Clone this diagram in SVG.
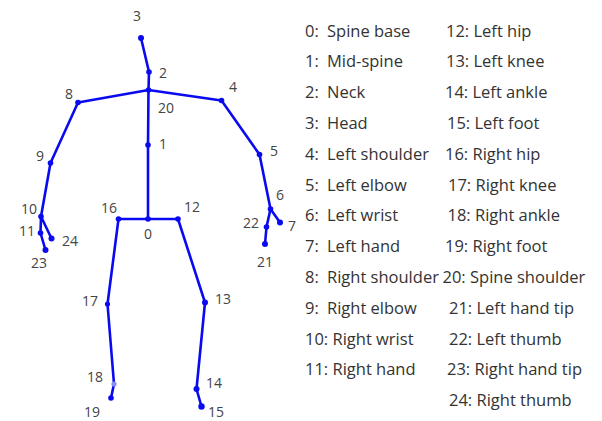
<svg xmlns="http://www.w3.org/2000/svg" width="602" height="421" viewBox="0 0 602 421">
  <style>
    .bone { stroke: #0a0af0; stroke-width: 2.6; stroke-linecap: round; fill: none; }
    .joint circle { fill: #0a0af0; }
    .joint text { font-family: "Open Sans", "Noto Sans", sans-serif; font-size: 14px; fill: #444; text-anchor: middle; }
    .legend text { font-family: "Open Sans", "Noto Sans", sans-serif; font-size: 16.5px; fill: #333; }
  </style>
  <rect width="602" height="421" fill="#fff"/>

  <!-- bones -->
  <g id="connectors" class="bone">
    <line x1="141" y1="38" x2="149" y2="72"/>
    <line x1="149" y1="72" x2="148.5" y2="90"/>
    <line x1="148.5" y1="90" x2="78" y2="102.5"/>
    <line x1="148.5" y1="90" x2="221.5" y2="100.5"/>
    <line x1="148.5" y1="90" x2="148" y2="145"/>
    <line x1="148" y1="145" x2="148" y2="219"/>
    <line x1="78" y1="102.5" x2="50.5" y2="163"/>
    <line x1="50.5" y1="163" x2="41" y2="216.5"/>
    <line x1="41" y1="216.5" x2="40.5" y2="233"/>
    <line x1="41" y1="216.5" x2="51.5" y2="238.5"/>
    <line x1="40.5" y1="233" x2="45.5" y2="250"/>
    <line x1="221.5" y1="100.5" x2="259.5" y2="154.5"/>
    <line x1="259.5" y1="154.5" x2="270.5" y2="209"/>
    <line x1="270.5" y1="209" x2="280" y2="222.5"/>
    <line x1="270.5" y1="209" x2="266.5" y2="227"/>
    <line x1="266.5" y1="227" x2="265" y2="244"/>
    <line x1="148" y1="219" x2="118.5" y2="219"/>
    <line x1="148" y1="219" x2="178" y2="219"/>
    <line x1="118.5" y1="219" x2="107.5" y2="304"/>
    <line x1="107.5" y1="304" x2="114" y2="384"/>
    <line x1="114" y1="384" x2="111" y2="398"/>
    <line x1="178" y1="219" x2="205" y2="302.5"/>
    <line x1="205" y1="302.5" x2="196.5" y2="389"/>
    <line x1="196.5" y1="389" x2="201.5" y2="406.5"/>
  </g>

  <!-- joints -->
  <g id="j0" class="joint"><circle cx="148" cy="219" r="2.8"/><text x="148" y="239">0</text></g>
  <g id="j1" class="joint"><circle cx="148" cy="145" r="2.8"/><text x="163" y="149">1</text></g>
  <g id="j2" class="joint"><circle cx="149" cy="72" r="2.8"/><text x="163" y="78">2</text></g>
  <g id="j3" class="joint"><circle cx="141" cy="38" r="3"/><text x="137" y="21">3</text></g>
  <g id="j4" class="joint"><circle cx="221.5" cy="100.5" r="2.8"/><text x="233" y="92">4</text></g>
  <g id="j5" class="joint"><circle cx="259.5" cy="154.5" r="2.8"/><text x="274" y="156">5</text></g>
  <g id="j6" class="joint"><circle cx="270.5" cy="209" r="2.8"/><text x="280" y="200">6</text></g>
  <g id="j7" class="joint"><circle cx="280" cy="222.5" r="3"/><text x="292" y="231">7</text></g>
  <g id="j8" class="joint"><circle cx="78" cy="102.5" r="2.8"/><text x="69" y="99">8</text></g>
  <g id="j9" class="joint"><circle cx="50.5" cy="163" r="2.8"/><text x="40" y="161">9</text></g>
  <g id="j10" class="joint"><circle cx="41" cy="216.5" r="2.8"/><text x="29" y="214">10</text></g>
  <g id="j11" class="joint"><circle cx="40.5" cy="233" r="2.8"/><text x="27" y="236">11</text></g>
  <g id="j12" class="joint"><circle cx="178" cy="219" r="2.8"/><text x="192" y="212">12</text></g>
  <g id="j13" class="joint"><circle cx="205" cy="302.5" r="3"/><text x="223" y="304">13</text></g>
  <g id="j14" class="joint"><circle cx="196.5" cy="389" r="3"/><text x="214" y="388">14</text></g>
  <g id="j15" class="joint"><circle cx="201.5" cy="406.5" r="3.2"/><text x="216" y="417">15</text></g>
  <g id="j16" class="joint"><circle cx="118.5" cy="219" r="2.8"/><text x="109" y="213">16</text></g>
  <g id="j17" class="joint"><circle cx="107.5" cy="304" r="2.6"/><text x="90" y="306">17</text></g>
  <g id="j18" class="joint"><circle cx="114" cy="384" r="2.6" style="fill:#8c8cf6"/><text x="95" y="382">18</text></g>
  <g id="j19" class="joint"><circle cx="111" cy="398" r="2.8"/><text x="92" y="417">19</text></g>
  <g id="j20" class="joint"><circle cx="148.5" cy="90" r="2.8"/><text x="166" y="113">20</text></g>
  <g id="j21" class="joint"><circle cx="265" cy="244" r="3"/><text x="265" y="267">21</text></g>
  <g id="j22" class="joint"><circle cx="266.5" cy="227" r="2.8"/><text x="251" y="228">22</text></g>
  <g id="j23" class="joint"><circle cx="45.5" cy="250" r="3"/><text x="39" y="268">23</text></g>
  <g id="j24" class="joint"><circle cx="51.5" cy="238.5" r="3"/><text x="70" y="246">24</text></g>

  <!-- joint index list -->
  <g id="legend" class="legend">
    <text x="305" y="36.5">0:<tspan x="327">Spine base</tspan></text>
    <text x="305" y="67.3">1:<tspan x="327">Mid-spine</tspan></text>
    <text x="305" y="98.1">2:<tspan x="327">Neck</tspan></text>
    <text x="305" y="128.9">3:<tspan x="327">Head</tspan></text>
    <text x="305" y="159.7">4:<tspan x="327">Left shoulder</tspan></text>
    <text x="305" y="190.5">5:<tspan x="327">Left elbow</tspan></text>
    <text x="305" y="221.3">6:<tspan x="327">Left wrist</tspan></text>
    <text x="305" y="252.1">7:<tspan x="327">Left hand</tspan></text>
    <text x="305" y="282.9">8:<tspan x="327">Right shoulder</tspan></text>
    <text x="305" y="313.7">9:<tspan x="327">Right elbow</tspan></text>
    <text x="305" y="344.5">10: Right wrist</text>
    <text x="305" y="375.3">11: Right hand</text>

    <text x="446" y="36.5">12: Left hip</text>
    <text x="446" y="67.3">13: Left knee</text>
    <text x="445" y="98.1">14: Left ankle</text>
    <text x="447" y="128.9">15: Left foot</text>
    <text x="445" y="159.7">16: Right hip</text>
    <text x="448" y="190.5">17: Right knee</text>
    <text x="447.5" y="221.3">18: Right ankle</text>
    <text x="445" y="252.1">19: Right foot</text>
    <text x="442.5" y="282.9">20: Spine shoulder</text>
    <text x="449" y="313.7">21: Left hand tip</text>
    <text x="449" y="344.5">22: Left thumb</text>
    <text x="447" y="375.3">23: Right hand tip</text>
    <text x="449" y="406.1">24: Right thumb</text>
  </g>
</svg>
